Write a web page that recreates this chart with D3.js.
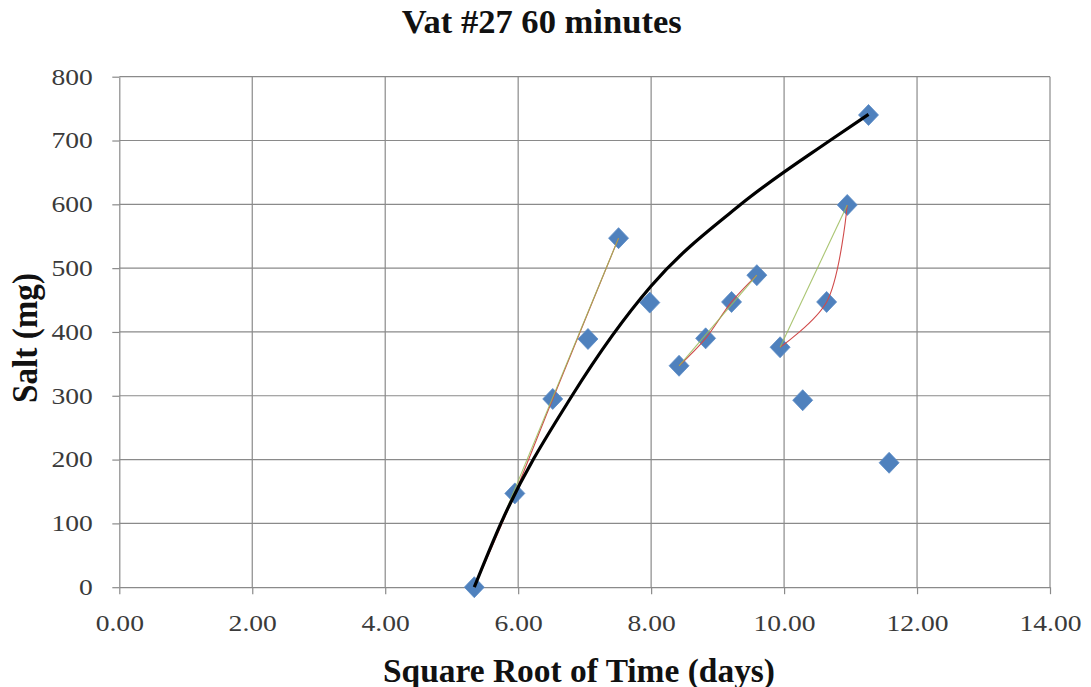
<!DOCTYPE html>
<html>
<head>
<meta charset="utf-8">
<script src="https://cdn.jsdelivr.net/npm/d3@7"></script>
<style>
  html, body { margin: 0; padding: 0; background: #ffffff; }
  svg { display: block; }
</style>
</head>
<body>
<svg id="chart" width="1091" height="687"></svg>
<script>
// ---- data ----
const chartTitle = "Vat #27 60 minutes";
const xTitle = "Square Root of Time (days)";
const yTitle = "Salt (mg)";
const xTicks = [0, 2, 4, 6, 8, 10, 12, 14];
const yTicks = [0, 100, 200, 300, 400, 500, 600, 700, 800];
const rootTime = [5.34, 5.95, 6.52, 7.05, 7.51, 7.98, 8.42, 8.82, 9.21, 9.59, 9.94, 10.28, 10.64, 10.95, 11.27, 11.58];
const saltMg   = [0, 147, 295, 389, 547, 446, 347, 390, 447, 489, 376, 293, 447, 599, 740, 195];
const trendRoot = [5.34, 5.74, 6.81, 8.0, 9.35, 10.69, 11.27];
const trendSalt = [0, 100, 300, 472, 600, 700, 741];
const smoothRuns = [[0, 1, 2, 4], [6, 7, 8, 9], [10, 12, 13]];      // red smoothed lines
const straightRuns = [[0, 4], [6, 9], [10, 13]];                    // green straight lines

(function () {
// ---- layout ----
const svg = d3.select("#chart");
const pLeft = 119.3, pRight = 1050, pTop = 76.7, pBottom = 587.2;
const x = d3.scaleLinear().domain([0, 14]).range([pLeft, pRight]);
const y = d3.scaleLinear().domain([0, 800]).range([pBottom, pTop]);
const gridColor = "#8a8a8a";
const serif = "'Liberation Serif', 'Times New Roman', serif";

// grid
const grid = svg.append("g");
grid.selectAll("line.h").data(yTicks.filter(v => v > 0)).join("line")
  .attr("class", "h")
  .attr("x1", pLeft).attr("x2", pRight)
  .attr("y1", d => y(d)).attr("y2", d => y(d))
  .attr("stroke", gridColor).attr("stroke-width", 1.2);
grid.selectAll("line.v").data(xTicks.filter(v => v > 0)).join("line")
  .attr("class", "v")
  .attr("y1", pTop).attr("y2", pBottom)
  .attr("x1", d => x(d)).attr("x2", d => x(d))
  .attr("stroke", gridColor).attr("stroke-width", 1.2);

// axes
const xAxis = svg.append("g").attr("transform", `translate(0,${pBottom})`)
  .call(d3.axisBottom(x).tickValues(xTicks).tickFormat(d3.format(".2f")).tickSize(7).tickSizeOuter(0).tickPadding(20.5));
const yAxis = svg.append("g").attr("transform", `translate(${pLeft},0)`)
  .call(d3.axisLeft(y).tickValues(yTicks).tickFormat(d3.format("d")).tickSize(7).tickSizeOuter(0).tickPadding(15));
[xAxis, yAxis].forEach(g => {
  g.select(".domain").attr("stroke", gridColor).attr("stroke-width", 1.2);
  g.selectAll(".tick line").attr("stroke", gridColor).attr("stroke-width", 1.2);
  g.selectAll(".tick text")
    .attr("font-family", serif).attr("font-size", 23).attr("fill", "#3a3a3a")
    .attr("transform", "scale(1.2,1)");
});

// markers
const pts = rootTime.map((t, i) => ({ t, s: saltMg[i] }));
svg.append("g").selectAll("path").data(pts).join("path")
  .attr("transform", d => `translate(${x(d.t)},${y(d.s)})`)
  .attr("d", "M0,-10.5L10,0L0,10.5L-10,0Z")
  .attr("fill", "#4f81bd").attr("stroke", "#5a8bc6").attr("stroke-width", 0.8);

// red smoothed lines
const smoothGen = d3.line().x(d => x(d.t)).y(d => y(d.s)).curve(d3.curveCatmullRom.alpha(0.5));
svg.append("g").selectAll("path").data(smoothRuns).join("path")
  .attr("d", r => smoothGen(r.map(i => pts[i])))
  .attr("fill", "none").attr("stroke", "#d04a4a").attr("stroke-width", 1.1);

// green straight lines
const lineGen = d3.line().x(d => x(d.t)).y(d => y(d.s));
svg.append("g").selectAll("path").data(straightRuns).join("path")
  .attr("d", r => lineGen(r.map(i => pts[i])))
  .attr("fill", "none").attr("stroke", "#9bbb59").attr("stroke-width", 1.1)
  .attr("stroke-opacity", 0.85);

// black trend curve
const trend = trendRoot.map((t, i) => ({ t, s: trendSalt[i] }));
svg.append("path")
  .attr("d", d3.line().x(d => x(d.t)).y(d => y(d.s)).curve(d3.curveMonotoneX)(trend))
  .attr("fill", "none").attr("stroke", "#000").attr("stroke-width", 3.2);

// titles
svg.append("text").text(chartTitle)
  .attr("x", 541.7).attr("y", 33.3).attr("text-anchor", "middle")
  .attr("font-family", serif).attr("font-weight", "bold").attr("font-size", 33)
  .attr("textLength", 280).attr("lengthAdjust", "spacingAndGlyphs").attr("fill", "#111");
svg.append("text").text(xTitle)
  .attr("x", 579).attr("y", 681.5).attr("text-anchor", "middle")
  .attr("font-family", serif).attr("font-weight", "bold").attr("font-size", 34)
  .attr("textLength", 392).attr("lengthAdjust", "spacingAndGlyphs").attr("fill", "#111");
svg.append("text").text(yTitle)
  .attr("transform", "translate(37,338) scale(1.2,1) rotate(-90)")
  .attr("text-anchor", "middle")
  .attr("font-family", serif).attr("font-weight", "bold").attr("font-size", 30)
  .attr("textLength", 130).attr("lengthAdjust", "spacingAndGlyphs").attr("fill", "#111");
})();
</script>
</body>
</html>
